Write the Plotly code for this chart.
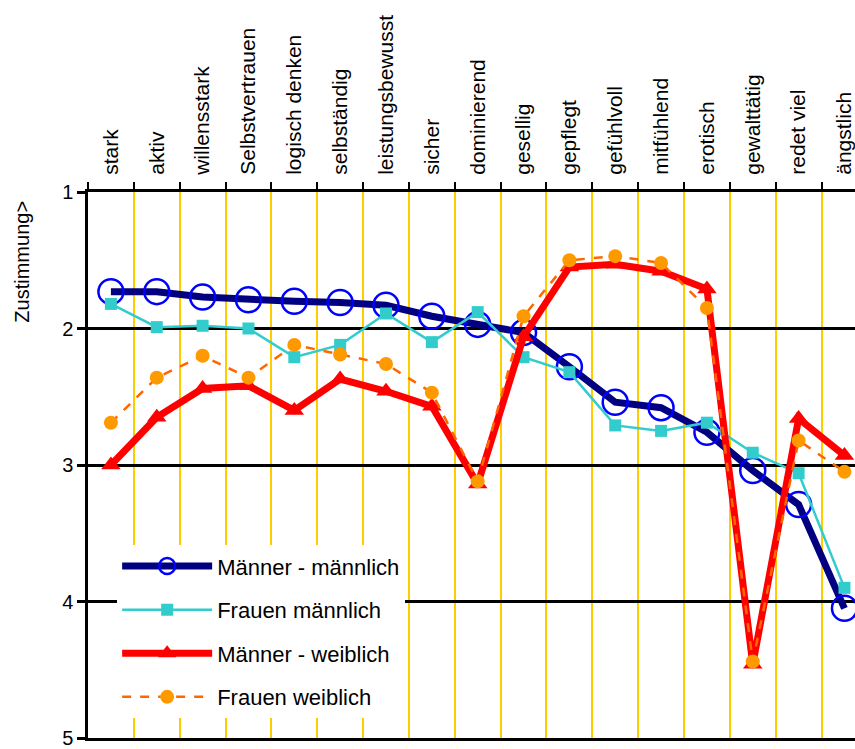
import plotly.graph_objects as go

categories = ["stark", "aktiv", "willensstark", "Selbstvertrauen", "logisch denken",
              "selbständig", "leistungsbewusst", "sicher", "dominierend", "gesellig",
              "gepflegt", "gefühlvoll", "mitfühlend", "erotisch", "gewalttätig",
              "redet viel", "ängstlich"]

maenner_maennlich = [1.73, 1.73, 1.77, 1.79, 1.80, 1.81, 1.83, 1.91, 1.97, 2.03,
                     2.28, 2.54, 2.58, 2.76, 3.04, 3.29, 4.05]
frauen_maennlich = [1.82, 1.99, 1.98, 2.00, 2.21, 2.12, 1.89, 2.10, 1.88, 2.21,
                    2.32, 2.71, 2.75, 2.69, 2.91, 3.06, 3.90]
maenner_weiblich = [3.00, 2.65, 2.44, 2.42, 2.60, 2.37, 2.46, 2.57, 3.14, 2.06,
                    1.55, 1.53, 1.58, 1.71, 4.46, 2.66, 2.93]
frauen_weiblich = [2.69, 2.36, 2.20, 2.36, 2.12, 2.19, 2.26, 2.47, 3.12, 1.91,
                   1.50, 1.47, 1.52, 1.85, 4.44, 2.82, 3.05]

y_ticks = [1, 2, 3, 4, 5]

FONT = "Arial, Liberation Sans, sans-serif"
x = list(range(len(categories)))

fig = go.Figure()
fig.add_trace(go.Scatter(
    x=x, y=maenner_maennlich, name="Männer - männlich", mode="lines+markers",
    line=dict(color="#000080", width=7),
    marker=dict(symbol="circle-open", size=25, color="#0000FF", line=dict(width=2.5, color="#0000FF")),
    legendgroup="a"))
fig.add_trace(go.Scatter(
    x=x, y=frauen_maennlich, name="Frauen männlich", mode="lines+markers",
    line=dict(color="#33CCCC", width=2.5),
    marker=dict(symbol="square", size=12, color="#33CCCC"),
    legendgroup="b"))
fig.add_trace(go.Scatter(
    x=x, y=maenner_weiblich, name="Männer - weiblich", mode="lines+markers",
    line=dict(color="#FF0000", width=7),
    marker=dict(symbol="triangle-up", size=17, color="#FF0000"),
    legendgroup="c"))
fig.add_trace(go.Scatter(
    x=x, y=frauen_weiblich, name="Frauen weiblich", mode="lines+markers",
    line=dict(color="#FF6600", width=2.5, dash="dash"),
    marker=dict(symbol="circle", size=14, color="#FF9900"),
    legendgroup="d"))

fig.update_layout(
    width=855, height=749,
    margin=dict(l=88, r=0, t=192, b=8),
    paper_bgcolor="white", plot_bgcolor="white",
    font=dict(family=FONT, color="black"),
    showlegend=True,
    legend=dict(x=0.038, y=0.353, xanchor="left", yanchor="top",
                bgcolor="white", borderwidth=0, font=dict(size=22, family=FONT),
                tracegroupgap=12, itemwidth=90),
    annotations=[dict(text="Zustimmung>", xref="paper", yref="paper",
                      x=-0.086, y=0.8725, xanchor="center", yanchor="middle",
                      showarrow=False, textangle=-90,
                      font=dict(size=20, family=FONT))],
)

fig.update_xaxes(
    range=[-0.5, 16.23], side="top",
    tickmode="array", tickvals=x, ticktext=categories, tickangle=-90,
    tickfont=dict(size=21, family=FONT), ticks="",
    ticklabeloverflow="allow",
    showgrid=False, zeroline=False,
    showline=True, linecolor="black", linewidth=3, mirror=True,
    ticklabelstandoff=10,
    minor=dict(tick0=0.5, dtick=1, ticks="outside", ticklen=7, tickwidth=2,
               tickcolor="black", showgrid=True, gridcolor="#FFCC00", gridwidth=2),
)
fig.update_yaxes(
    range=[5, 1], tickmode="array", tickvals=y_ticks,
    tickfont=dict(size=20, family=FONT),
    ticklabeloverflow="allow",
    ticks="outside", ticklen=8, tickwidth=2.5, tickcolor="black",
    showgrid=True, gridcolor="black", gridwidth=2.5, zeroline=False,
    showline=True, linecolor="black", linewidth=2.5,
)

fig.write_html("out.html",
               config={"displayModeBar": False},
               post_script="document.body.style.margin='0';document.body.style.overflow='hidden';")
